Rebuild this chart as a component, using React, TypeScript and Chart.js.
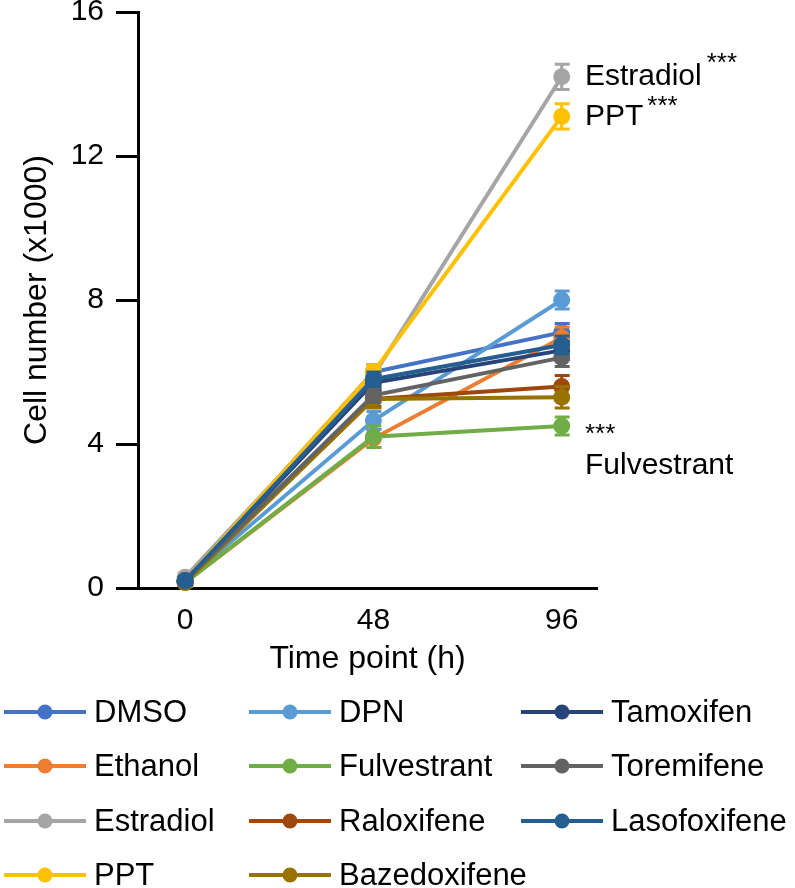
import React, { useEffect, useRef } from "react";
import { Chart, registerables } from "chart.js";

Chart.register(...registerables);

const FONT = "'Liberation Sans', Arial, Helvetica, sans-serif";

const timePoints = [0, 48, 96];
const xTickValues = [0, 48, 96];
const yTickStep = 4;

const seriesNames = [
  "DMSO", "Ethanol", "Estradiol", "PPT",
  "DPN", "Fulvestrant", "Raloxifene", "Bazedoxifene",
  "Tamoxifen", "Toremifene", "Lasofoxifene",
];
const seriesColors = [
  "#4472C4", "#ED7D31", "#A5A5A5", "#FFC000",
  "#5B9BD5", "#70AD47", "#9E480E", "#997300",
  "#264478", "#636363", "#255E91",
];

const dmso = [0.2, 6.0, 7.1];
const dmsoErr = [0.1, 0.2, 0.25];
const ethanol = [0.15, 4.15, 6.95];
const ethanolErr = [0.1, 0.25, 0.3];
const estradiol = [0.3, 5.9, 14.2];
const estradiolErr = [0.12, 0.2, 0.35];
const ppt = [0.2, 6.0, 13.1];
const pptErr = [0.1, 0.2, 0.35];
const dpn = [0.2, 4.65, 8.0];
const dpnErr = [0.1, 0.25, 0.25];
const fulvestrant = [0.15, 4.2, 4.5];
const fulvestrantErr = [0.1, 0.3, 0.25];
const raloxifene = [0.2, 5.25, 5.6];
const raloxifeneErr = [0.1, 0.2, 0.3];
const bazedoxifene = [0.15, 5.25, 5.3];
const bazedoxifeneErr = [0.1, 0.25, 0.3];
const tamoxifen = [0.2, 5.7, 6.6];
const tamoxifenErr = [0.1, 0.2, 0.25];
const toremifene = [0.2, 5.35, 6.4];
const toremifeneErr = [0.1, 0.2, 0.25];
const lasofoxifene = [0.2, 5.8, 6.75];
const lasofoxifeneErr = [0.1, 0.2, 0.25];

const seriesValues = [dmso, ethanol, estradiol, ppt, dpn, fulvestrant, raloxifene, bazedoxifene, tamoxifen, toremifene, lasofoxifene];
const seriesErrors = [dmsoErr, ethanolErr, estradiolErr, pptErr, dpnErr, fulvestrantErr, raloxifeneErr, bazedoxifeneErr, tamoxifenErr, toremifeneErr, lasofoxifeneErr];

const yTitle = "Cell number (x1000)";
const xTitle = "Time point (h)";

const errorBarPlugin = {
  id: "errorBars",
  afterDatasetDraw(chart: any, args: any) {
    const ds = chart.data.datasets[args.index];
    const errs: number[] = ds.errors;
    if (!errs) return;
    const yScale = chart.scales.y;
    const ctx = chart.ctx;
    ctx.save();
    ctx.strokeStyle = ds.borderColor;
    ctx.lineWidth = 3;
    args.meta.data.forEach((pt: any, i: number) => {
      const v = ds.data[i].y;
      const e = errs[i];
      const yt = yScale.getPixelForValue(v + e);
      const yb = yScale.getPixelForValue(v - e);
      ctx.beginPath();
      ctx.moveTo(pt.x, yt);
      ctx.lineTo(pt.x, yb);
      ctx.moveTo(pt.x - 7, yt);
      ctx.lineTo(pt.x + 8, yt);
      ctx.moveTo(pt.x - 7, yb);
      ctx.lineTo(pt.x + 8, yb);
      ctx.stroke();
    });
    ctx.restore();
  },
};

const decorPlugin = {
  id: "decor",
  afterDraw(chart: any) {
    const ctx = chart.ctx;
    const area = chart.chartArea;
    ctx.save();
    ctx.fillStyle = "#000";
    // axis titles
    ctx.font = `32px ${FONT}`;
    ctx.textAlign = "center";
    ctx.textBaseline = "middle";
    ctx.save();
    ctx.translate(37, (area.top + area.bottom) / 2);
    ctx.rotate(-Math.PI / 2);
    ctx.fillText(yTitle, 0, 0);
    ctx.restore();
    ctx.fillText(xTitle, (area.left + area.right) / 2, 659);

    // annotations
    ctx.textAlign = "left";
    ctx.textBaseline = "alphabetic";
    ctx.font = `30px ${FONT}`;
    ctx.fillText("Estradiol", 585, 85);
    const w1 = ctx.measureText("Estradiol").width;
    ctx.fillText("PPT", 585, 125);
    const w2 = ctx.measureText("PPT").width;
    ctx.fillText("Fulvestrant", 585, 474);
    ctx.font = `26px ${FONT}`;
    ctx.fillText("***", 585 + w1 + 5, 71);
    ctx.fillText("***", 585 + w2 + 4, 114);
    ctx.fillText("***", 585, 442);

    // legend (column-major, 3 columns x 4 rows)
    const colLineStart = [4, 249, 521];
    const lineLen = 82;
    const textGap = 8;
    const rowY = [712, 766, 821, 875];
    ctx.font = `31px ${FONT}`;
    ctx.textBaseline = "middle";
    seriesNames.forEach((name, i) => {
      const col = Math.floor(i / 4);
      const row = i % 4;
      const x0 = colLineStart[col];
      const y = rowY[row];
      ctx.strokeStyle = seriesColors[i];
      ctx.lineWidth = 4;
      ctx.beginPath();
      ctx.moveTo(x0, y);
      ctx.lineTo(x0 + lineLen, y);
      ctx.stroke();
      ctx.fillStyle = seriesColors[i];
      ctx.beginPath();
      ctx.arc(x0 + lineLen / 2, y, 7.5, 0, Math.PI * 2);
      ctx.fill();
      ctx.fillStyle = "#000";
      ctx.fillText(name, x0 + lineLen + textGap, y + 1);
    });
    ctx.restore();
  },
};

export default function App() {
  const ref = useRef<HTMLCanvasElement | null>(null);
  useEffect(() => {
    document.body.style.margin = "0";
    const canvas = ref.current;
    if (!canvas) return;
    const n = seriesNames.length;
    const datasets = seriesNames.map((name, i) => ({
      label: name,
      data: timePoints.map((t, j) => ({ x: t, y: seriesValues[i][j] })),
      errors: seriesErrors[i],
      borderColor: seriesColors[i],
      backgroundColor: seriesColors[i],
      pointBackgroundColor: seriesColors[i],
      pointBorderWidth: 0,
      pointRadius: 8.5,
      borderWidth: 4,
      tension: 0,
      clip: false,
      order: n - i,
    }));
    const chart = new Chart(canvas, {
      type: "line",
      data: { datasets } as any,
      options: {
        animation: false,
        responsive: false,
        maintainAspectRatio: false,
        layout: { padding: { top: 12, right: 198, bottom: 240, left: 0 } },
        plugins: { legend: { display: false }, tooltip: { enabled: false } },
        scales: {
          x: {
            type: "linear",
            min: -12,
            max: 105,
            afterBuildTicks: (s: any) => {
              s.ticks = xTickValues.map((v) => ({ value: v }));
            },
            afterFit: (s: any) => {
              s.height = 60;
              s.paddingLeft = 0;
              s.paddingRight = 0;
            },
            ticks: {
              font: { size: 30, family: FONT },
              color: "#000",
              padding: 15,
              autoSkip: false,
              maxRotation: 0,
            },
            grid: { drawOnChartArea: false, drawTicks: false },
            border: { color: "#000", width: 3 },
          },
          y: {
            min: 0,
            max: 16,
            afterFit: (s: any) => {
              s.width = 138;
              s.paddingTop = 0;
              s.paddingBottom = 0;
            },
            ticks: {
              stepSize: yTickStep,
              font: { size: 30, family: FONT },
              color: "#000",
              padding: 12,
            },
            grid: {
              drawOnChartArea: false,
              drawTicks: true,
              tickLength: 22,
              tickWidth: 3,
              tickColor: "#000",
            },
            border: { color: "#000", width: 3 },
          },
        },
      } as any,
      plugins: [errorBarPlugin, decorPlugin],
    });
    return () => chart.destroy();
  }, []);
  return (
    <div style={{ width: 795, height: 888, background: "#fff" }}>
      <canvas ref={ref} width={795} height={888} style={{ display: "block" }} />
    </div>
  );
}
